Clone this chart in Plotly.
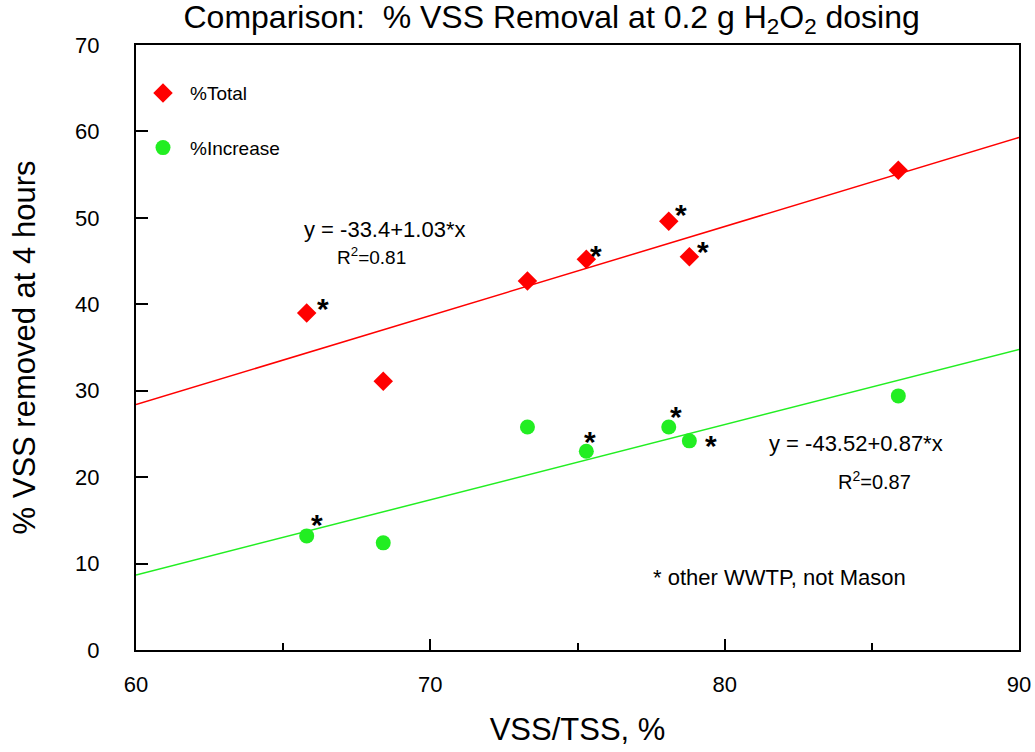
import plotly.graph_objects as go

# Data
vss_tss = [65.8, 68.4, 73.3, 75.3, 78.1, 78.8, 85.9]
pct_total = [39.0, 31.1, 42.7, 45.2, 49.6, 45.5, 55.5]
pct_increase = [13.2, 12.4, 25.8, 23.0, 25.8, 24.2, 29.4]
other_wwtp = [True, False, False, True, True, True, False]

fit_total = (-33.4, 1.03)
fit_increase = (-43.52, 0.87)
x_range = [60, 90]

# asterisk pixel offsets (style only)
star_off_total = [(16, 12), None, None, (10, 12), (12, 15), (14, 13), None]
star_off_incr = [(10, 19), None, None, (4, 18), (7, 19), (22, 3), None]

FONT = "Liberation Sans, Arial, sans-serif"

fig = go.Figure()

fig.add_trace(go.Scatter(
    x=x_range, y=[fit_total[0] + fit_total[1] * v for v in x_range],
    mode="lines", line=dict(color="#ff0000", width=1.5), showlegend=False, hoverinfo="skip"))
fig.add_trace(go.Scatter(
    x=x_range, y=[fit_increase[0] + fit_increase[1] * v for v in x_range],
    mode="lines", line=dict(color="#22ee22", width=1.5), showlegend=False, hoverinfo="skip"))

fig.add_trace(go.Scatter(
    x=vss_tss, y=pct_total, mode="markers", name="%Total", legendgroup="a",
    marker=dict(symbol="diamond", size=15, color="#ff0000")))
fig.add_trace(go.Scatter(
    x=vss_tss, y=pct_increase, mode="markers", name="%Increase", legendgroup="b",
    marker=dict(symbol="circle", size=15, color="#22ee22")))

annotations = []
for xs, ys, offs in [(vss_tss, pct_total, star_off_total), (vss_tss, pct_increase, star_off_incr)]:
    for xv, yv, flag, off in zip(xs, ys, other_wwtp, offs):
        if flag and off:
            annotations.append(dict(x=xv, y=yv, xref="x", yref="y", text="<b>*</b>", showarrow=False,
                                    xshift=off[0], yshift=off[1] - 8,
                                    font=dict(family=FONT, size=30, color="black")))

def txt(x, y, s, size):
    annotations.append(dict(x=x, y=y, xref="x", yref="y", text=s, showarrow=False,
                            font=dict(family=FONT, size=size, color="black")))

txt(68.45, 48.7, "y = -33.4+1.03*x", 22)
txt(68.0, 45.6, "R<sup>2</sup>=0.81", 19)
txt(84.45, 23.9, "y = -43.52+0.87*x", 22)
txt(85.1, 19.6, "R<sup>2</sup>=0.87", 20)
txt(81.85, 8.4, "* other WWTP, not Mason", 22)

fig.update_layout(
    width=1035, height=752,
    margin=dict(l=136, r=16, t=45, b=102),
    paper_bgcolor="white", plot_bgcolor="white",
    font=dict(family=FONT, color="black"),
    title=dict(text="Comparison:  % VSS Removal at 0.2 g H<sub>2</sub>O<sub>2</sub> dosing",
               x=0.533, xanchor="center", y=0.978, yanchor="middle",
               font=dict(family=FONT, size=32, color="black")),
    legend=dict(x=0.0, y=0.952, xanchor="left", yanchor="top", bgcolor="rgba(0,0,0,0)",
                tracegroupgap=27, font=dict(family=FONT, size=19, color="black"),
                itemwidth=44),
    annotations=annotations,
    xaxis=dict(range=x_range, tickvals=[60, 70, 80, 90], ticks="inside", ticklen=11,
               tickwidth=1.5, tickcolor="black", showline=True, linecolor="black", linewidth=2,
               mirror=True, showgrid=False, zeroline=False, automargin=False,
               minor=dict(tickvals=[65, 75, 85], ticks="inside", ticklen=7, tickwidth=1.5,
                          tickcolor="black", showgrid=False),
               tickfont=dict(family=FONT, size=22), ticklabelstandoff=14,
               title=dict(text="VSS/TSS, %", font=dict(family=FONT, size=31), standoff=22)),
    yaxis=dict(range=[0, 70], tickvals=list(range(0, 71, 10)), ticks="inside", ticklen=12,
               tickwidth=1.5, tickcolor="black", showline=True, linecolor="black", linewidth=2,
               mirror=True, showgrid=False, zeroline=False, automargin=False,
               tickfont=dict(family=FONT, size=22), ticklabelstandoff=30,
               title=dict(text="% VSS removed at 4 hours", font=dict(family=FONT, size=31), standoff=30)),
)

fig.write_html("out.html")
